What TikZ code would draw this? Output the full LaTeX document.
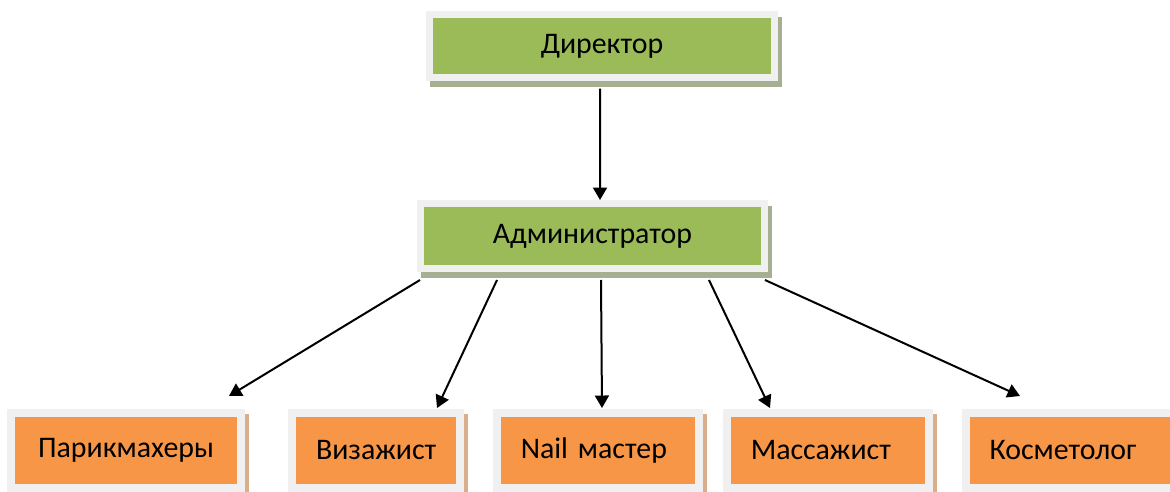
\documentclass[tikz,border=0pt]{standalone}
\usepackage{fontspec}
\setmainfont{Carlito}
\usepackage{xcolor}
\usetikzlibrary{positioning,arrows.meta,shadows}

\definecolor{boxgreen}{HTML}{9BBB59}
\definecolor{boxorange}{HTML}{F79646}
\definecolor{framegray}{HTML}{F0F0F0}
\definecolor{shadegreen}{HTML}{A7AF92}
\definecolor{shadeorange}{HTML}{D9AE88}

\begin{document}
\begin{tikzpicture}[x=0.02cm,y=-0.02cm,
    topbox/.style={draw=framegray,line width=0.14cm,fill=boxgreen,
      minimum width=6.9cm,minimum height=1.27cm,inner sep=0pt,
      font=\fontsize{17}{20}\selectfont,
      general shadow={shadow xshift=0.08cm,shadow yshift=-0.12cm,
        fill=shadegreen,draw=shadegreen,line width=0.14cm}},
    staffbox/.style={draw=framegray,line width=0.16cm,fill=boxorange,
      minimum height=1.5cm,inner ysep=0pt,inner xsep=0.48cm,
      text width=#1,align=left,
      font=\fontsize{17}{20}\selectfont,
      general shadow={shadow xshift=0.08cm,shadow yshift=-0.1cm,
        fill=shadeorange,draw=shadeorange,line width=0.16cm}},
    arr/.style={draw=black,line width=0.04cm,
      -{Triangle[length=0.25cm,width=0.28cm]}}]
  \useasboundingbox (0,0) rectangle (1170,491);
  \clip (0,0) rectangle (1170,491);
  % management
  \node[topbox] (dir) at (602,46) {Директор};
  \node[topbox,minimum width=6.88cm,minimum height=1.3cm] (adm) at (592.5,236) {Администратор};
  % staff
  \node[staffbox=3.64cm,align=center] (hair) at (126,450.5) {Парикмахеры};
  \node[staffbox=2.4cm]  (vis)  at (376,450.5) {Визажист};
  \node[staffbox=3.09cm] (nail) at (598,450.5) {Nail мастер};
  \node[staffbox=3.09cm] (mas)  at (828,450.5) {Массажист};
  \node[staffbox=3.34cm] (cos)  at (1073,450.5) {Косметолог};
  % arrows
  \path[arr] ([xshift=-0.04cm,yshift=-0.15cm]dir.south) -- ([xshift=0.15cm]adm.north);
  \path[arr] ([xshift=-3.45cm,yshift=-0.16cm]adm.south) -- ([xshift=2.06cm,yshift=0.26cm]hair.north);
  \path[arr] ([xshift=-1.91cm,yshift=-0.16cm]adm.south) -- ([xshift=1.22cm,yshift=0.02cm]vis.north);
  \path[arr] ([xshift=0.17cm,yshift=-0.16cm]adm.south) -- ([xshift=0.08cm,yshift=0.02cm]nail.north);
  \path[arr] ([xshift=2.33cm,yshift=-0.16cm]adm.south) -- ([xshift=-1.16cm,yshift=0.02cm]mas.north);
  \path[arr] ([xshift=3.45cm,yshift=-0.16cm]adm.south) -- ([xshift=-1.06cm,yshift=0.26cm]cos.north);
\end{tikzpicture}
\end{document}
